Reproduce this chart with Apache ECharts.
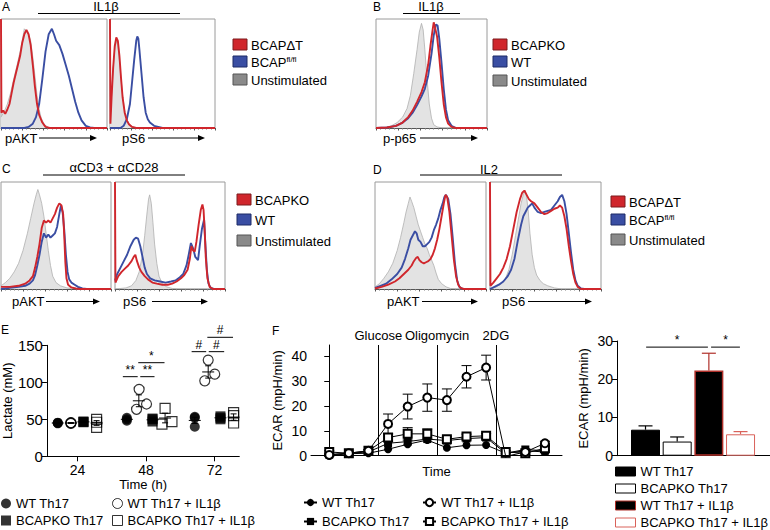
<!DOCTYPE html>
<html>
<head>
<meta charset="utf-8">
<script src="https://cdn.jsdelivr.net/npm/echarts@6.0.0/dist/echarts.min.js"></script>
<style>
  html, body { margin: 0; padding: 0; background: #fff; }
  #chart { width: 770px; height: 530px; }
</style>
</head>
<body>
<div id="chart"></div>
<script>
// ---- flow histograms: [position %, height % of max]
const a1Gray = [[0,10],[3,15],[6,22],[9,32],[12,45],[15,57],[18,70],[20,80],[22,91],[24,89],[26,86],[28,80],[30,65],[32,48],[34,30],[36,17],[38,9],[41,3],[45,0.5],[50,0],[100,0]];
const a1Blue = [[0,0],[22,0],[26,1],[30,4],[33,10],[36,22],[39,45],[42,70],[45,86],[48,91],[50,86],[52,80],[55,76],[58,68],[61,58],[64,48],[67,36],[70,24],[73,14],[76,7],[80,2],[84,0.5],[88,0],[100,0]];
const a1Red = [[0,100],[0.4,14],[2,16],[4,13],[6,17],[8,22],[10,32],[12,42],[14,50],[16,58],[18,66],[20,78],[22,86],[24,90],[26,86],[28,76],[30,58],[32,38],[34,22],[36,12],[39,5],[42,1],[46,0],[100,0]];
const a2Gray = [[0,4],[1.5,30],[3,55],[4.5,72],[6,80],[7.5,76],[9,62],[10.5,45],[12,30],[14,16],[16,8],[18,4],[21,1.5],[25,0],[100,0]];
const a2Blue = [[0,0],[10,0],[13,2],[16,8],[19,22],[21,42],[23,62],[25,80],[26,84],[27,82],[28,72],[30,50],[32,28],[34,14],[36,8],[38,5],[42,2],[46,1],[50,0],[100,0]];
const a2Red = [[0,100],[0.4,4],[1.5,28],[3,55],[4.5,75],[6,83],[7.5,80],[9,66],[10.5,46],[12,28],[14,14],[16,7],[18,3.5],[21,1],[25,0],[100,0]];
const bGray = [[0,0],[8,0.5],[14,2],[19,5],[24,10],[28,18],[31,30],[34,50],[37,72],[39,88],[41,96],[42.5,90],[44,72],[46,45],[48,22],[50,9],[52,3],[55,1],[60,0],[100,0]];
const bBlue = [[0,0],[10,0.5],[18,2],[24,5],[29,9],[33,14],[37,21],[41,29],[44,36],[47,48],[50,68],[52,85],[54,95],[55.5,94],[57,82],[59,60],[61,36],[63,17],[65,7],[68,2],[72,0],[100,0]];
const bRed = [[0,0],[10,0.5],[18,2],[24,5],[29,10],[33,16],[37,24],[41,33],[44,42],[47,58],[49,75],[51,90],[52,97],[53,93],[55,84],[57,65],[59,42],[61,22],[63,10],[65,4],[68,1],[72,0],[100,0]];
const c1Gray = [[0,3],[4,6],[8,10],[12,16],[16,24],[20,36],[24,52],[27,66],[30,80],[32,88],[33.5,93],[35,88],[37,80],[39,68],[41,52],[43,36],[45,22],[47,12],[50,6],[54,3],[60,1],[70,0],[100,0]];
const c1Blue = [[0,0],[8,1],[16,2],[22,3],[26,5],[29,8],[31,13],[33,22],[35,32],[37,44],[39,52],[41,48],[43,51],[45,48],[47,50],[49,52],[51,58],[53,70],[54.5,78],[56,72],[57.5,55],[59,32],[60.5,16],[62,9],[64,6],[67,4],[70,2],[74,0.5],[78,0],[100,0]];
const c1Red = [[0,2],[8,2],[16,3],[22,5],[26,8],[29,12],[31,20],[33,30],[35,42],[37,57],[39,64],[41,62],[43,64],[45,62],[47,66],[49,70],[51,76],[53,80],[55,78],[56.5,70],[57.5,50],[58.5,25],[59.5,10],[61,4],[64,1.5],[68,0.5],[72,0],[100,0]];
const c2Gray = [[0,0],[10,1],[15,3],[19,8],[22,16],[25,32],[27,50],[29,70],[30.5,84],[31.5,88],[33,80],[34.5,62],[36,42],[38,24],[40,12],[43,5],[47,2],[52,0.5],[58,0],[100,0]];
const c2Blue = [[0,8],[2,14],[5,20],[8,26],[11,32],[14,40],[17,46],[19,48],[21,47],[23,40],[25,30],[27,20],[29,14],[32,10],[36,8],[41,7],[46,6],[51,7],[55,8],[59,11],[62,14],[65,22],[67,32],[69,43],[71,38],[73,30],[75.5,27],[77,40],[79,56],[81,65],[82,45],[83.5,18],[85,5],[87,1],[90,0],[100,0]];
const c2Red = [[0,100],[0.4,6],[3,12],[6,16],[9,19],[12,22],[15,26],[17,30],[18.5,32],[20,26],[22,20],[24,16],[27,12],[30,9],[34,6],[38,5],[43,4],[48,4],[52,5],[56,7],[60,10],[63,13],[66,18],[68,28],[69.5,40],[71,36],[72.5,35],[74,44],[76,60],[78,74],[79.5,79],[80.5,74],[81.5,55],[82.5,30],[84,10],[86,2],[89,0],[100,0]];
const d1Gray = [[0,2],[4,5],[8,10],[12,16],[16,24],[20,36],[23,48],[26,62],[28,72],[30,80],[31.5,86],[33,82],[35,76],[37,68],[39,60],[41,54],[43,48],[45,42],[47,38],[49,32],[51,27],[53,22],[55,15],[57,9],[60,5],[64,2],[68,0.5],[75,0],[100,0]];
const d1Blue = [[0,1],[5,3],[10,5],[15,9],[20,14],[24,20],[27,28],[30,38],[32,46],[34,50],[36,54],[37.5,52],[39,46],[41,44],[43,40],[45,40],[47,42],[49,44],[51,48],[53,55],[55,60],[57,66],[59,74],[61,80],[62.5,86],[64,88],[66,84],[68,70],[70,48],[72,24],[74,8],[76,2],[79,0],[100,0]];
const d1Red = [[0,0.5],[6,2],[12,4],[18,7],[22,10],[26,14],[30,18],[33,22],[35,26],[37,29],[38.5,30],[40,27],[42,25],[44,24],[46,25],[48,26],[50,28],[52,32],[54,38],[56,46],[58,56],[60,68],[62,80],[63.5,88],[65,86],[67,72],[69,50],[71,28],[73,12],[75,4],[77,1],[80,0],[100,0]];
const d2Gray = [[0,0],[6,2],[10,5],[14,10],[17,18],[20,32],[23,50],[26,68],[28,80],[30,88],[31.5,92],[33,86],[34.5,72],[36,52],[38,32],[40,20],[42,13],[45,8],[48,5],[52,3],[58,1],[65,0],[100,0]];
const d2Blue = [[0,0],[4,2],[8,4],[12,7],[16,12],[19,18],[22,28],[25,45],[28,60],[30,68],[32,72],[34,76],[36,78],[38,80],[40,76],[43,72],[46,71],[49,72],[52,73],[55,74],[58,78],[61,82],[63,86],[65,88],[67,82],[69,70],[71,52],[73,34],[75,18],[77,8],[79,3],[82,0.5],[85,0],[100,0]];
const d2Red = [[0,100],[0.4,3],[3,6],[6,10],[9,14],[12,20],[15,28],[18,40],[21,56],[24,72],[27,84],[29,90],[31,92],[33,88],[35,84],[37,82],[40,80],[43,76],[46,72],[49,70],[52,71],[55,73],[58,75],[61,76],[63,78],[65,76],[67,68],[69,56],[71,40],[73,26],[75,14],[77,6],[79,2],[82,0],[100,0]];

// ---- E: lactate, [time position (h, jittered), mM]
const eWt = [[17.1,44.5],[17.1,45],[17.1,45.5],[41.3,52],[41.3,48],[41.3,50],[65.1,53.5],[65.1,52],[65.1,40]];
const eWtIl = [[21.7,45.5],[21.7,45],[21.7,44.5],[45.6,90.5],[44.7,63.5],[48.2,70.7],[69.8,130],[68.6,102],[72.1,111]];
const eKo = [[26.1,46.5],[26.1,46],[26.1,47],[50.3,51],[50.3,47],[50.3,50],[74.1,54],[74.1,50],[74.1,52]];
const eKoIl = [[30.7,50],[30.7,39],[30.7,46],[54.7,64.8],[53.6,43.6],[57.1,46.8],[78.7,59],[78.7,55],[78.7,45]];
const eGroupX = [17.1,41.3,65.1, 21.7,45.5,69.8, 26.1,50.3,74.1, 30.7,54.7,78.7];
const eMean = [45,50,48.5, 45,75,114, 46.5,49.3,52, 45,51.7,53];
const eSem = [0.5,1.2,4.2, 0.6,8,8.3, 0.5,1.2,1.2, 3.2,6.5,4.3];
const eTicks = [24, 48, 72];
const sigE = [[39.9,45.1,107.6,'**'],[46.0,51.0,107.6,'**'],[45.3,54.5,126.5,'*'],[64.0,69.1,141.4,'#'],[70.0,75.4,141.4,'#'],[69.5,78.5,160.8,'#']];

// ---- F: ECAR trace
const fTime = [0,1,2,3,4,5,6,7,8,9,10,11];
const fWt = [0,0.8,1,2.6,4.6,6.3,3.2,4.2,4.3,1,2,1.5];
const fKo = [0.5,1,1.5,5,5.7,6.7,6.1,6.9,7.3,1,2.5,2];
const fKoIl = [1.5,1,2,7.3,8.8,8.8,6.6,7.7,8,1.5,1,3];
const fWtIl = [0.3,1,2,12.8,19.8,23.4,22.4,31.8,35.5,-0.3,1.5,5];
const fErrKoIl = [0.5,0.3,0.5,1.5,2.5,2,1,1,1,0.5,0.5,0.8];
const fErrWtIl = [0.3,0.3,0.5,4,5,5.5,4.5,4.5,5,0.5,0.5,0.8];
const fInjections = [[2.5,'Glucose'],[5.5,'Oligomycin'],[8.5,'2DG']];
const fTicks = [0, 10, 20, 30, 40];

// ---- F: ECAR bars
const barNames = ['WT Th17', 'BCAPKO Th17', 'WT Th17 + IL1β', 'BCAPKO Th17 + IL1β'];
const barX = [1, 2, 3, 4];
const barMean = [6.8, 3.7, 22.3, 5.6];
const barTop = [7.8, 4.9, 26.8, 6.3];
const sigBar = [[1.02,2.97,28.4,'*'],[3.07,3.98,28.4,'*']];

const FONT = "'Liberation Sans', Arial, sans-serif";
const RED = '#d0262c', BLUE = '#3a4ea3';
const BAR_FILL = ['#000', '#fff', '#000', '#fff'];
const BAR_EDGE = ['#000', '#000', '#b0302a', '#d9625a'];

const chart = echarts.init(document.getElementById('chart'), null, { renderer: 'svg' });

const histPanels = [
  { box: [1, 19, 106, 109], curves: [a1Gray, a1Blue, a1Red] },
  { box: [110, 19, 105, 109], curves: [a2Gray, a2Blue, a2Red] },
  { box: [376, 19, 111, 109], curves: [bGray, bBlue, bRed] },
  { box: [1, 182, 110, 107], curves: [c1Gray, c1Blue, c1Red] },
  { box: [115, 182, 110, 107], curves: [c2Gray, c2Blue, c2Red] },
  { box: [375, 182, 111, 107], curves: [d1Gray, d1Blue, d1Red] },
  { box: [490, 182, 111, 107], curves: [d2Gray, d2Blue, d2Red] }
];

const grid = [], xAxis = [], yAxis = [], series = [];

histPanels.forEach((p, i) => {
  grid.push({ left: p.box[0], top: p.box[1], width: p.box[2], height: p.box[3],
    show: true, borderColor: '#9a9a9a', borderWidth: 1 });
  xAxis.push({ gridIndex: i, type: 'value', min: 0, max: 100, interval: 20,
    axisLine: { show: true, lineStyle: { color: '#555', width: 1 } },
    axisTick: { show: true, length: 2.5, lineStyle: { color: '#555' } },
    minorTick: { show: true, splitNumber: 5, length: 1.5, lineStyle: { color: '#777' } },
    axisLabel: { show: false }, splitLine: { show: false } });
  yAxis.push({ gridIndex: i, type: 'value', min: 0, max: 100, show: false });
  const styles = [
    { lineStyle: { color: '#b0b0b0', width: 0.8 }, areaStyle: { color: '#e3e3e3', opacity: 1 } },
    { lineStyle: { color: BLUE, width: 1.9 } },
    { lineStyle: { color: RED, width: 1.9 } }
  ];
  p.curves.forEach((c, k) => {
    series.push(Object.assign({ type: 'line', xAxisIndex: i, yAxisIndex: i, data: c,
      symbol: 'none', silent: true, z: 2 + k }, styles[k]));
  });
});

const axisBlack = { show: true, lineStyle: { color: '#000', width: 1 } };
const tickBlack = { show: true, length: 5, lineStyle: { color: '#000' } };
const labelStyle = { color: '#000', fontSize: 14, fontFamily: FONT };
const nameStyle = { color: '#000', fontSize: 13, fontFamily: FONT };

// E grid (7)
grid.push({ left: 44, top: 345.3, width: 195.3, height: 111 });
xAxis.push({ gridIndex: 7, type: 'value', min: 13.3, max: 80.7, axisLine: axisBlack,
  axisTick: Object.assign({ customValues: eTicks }, tickBlack),
  axisLabel: Object.assign({ customValues: eTicks, margin: 7 }, labelStyle),
  splitLine: { show: false }, name: 'Time (h)', nameLocation: 'middle', nameGap: 21, nameTextStyle: nameStyle });
yAxis.push({ gridIndex: 7, type: 'value', min: 0, max: 150, interval: 50, axisLine: axisBlack,
  axisTick: tickBlack, axisLabel: Object.assign({ margin: 4 }, labelStyle, { fontSize: 15 }), splitLine: { show: false },
  name: 'Lactate (mM)', nameLocation: 'middle', nameGap: 31, nameTextStyle: nameStyle });

// F trace grid (8)
grid.push({ left: 311, top: 345, width: 251, height: 110.7 });
xAxis.push({ gridIndex: 8, type: 'value', min: -0.93, max: 11.87, axisLine: axisBlack,
  axisTick: { show: false }, axisLabel: { show: false }, splitLine: { show: false },
  name: 'Time', nameLocation: 'middle', nameGap: 9, nameTextStyle: nameStyle });
yAxis.push({ gridIndex: 8, type: 'value', min: 0, max: 44.6, axisLine: axisBlack,
  axisTick: Object.assign({ customValues: fTicks }, tickBlack),
  axisLabel: Object.assign({ customValues: fTicks, margin: 4 }, labelStyle), splitLine: { show: false },
  name: 'ECAR (mpH/min)', nameLocation: 'middle', nameGap: 27, nameTextStyle: nameStyle });

// F bar grid (9)
grid.push({ left: 617, top: 341, width: 153, height: 114.7 });
xAxis.push({ gridIndex: 9, type: 'value', min: 0.1, max: 4.93, axisLine: axisBlack,
  axisTick: { show: false }, axisLabel: { show: false }, splitLine: { show: false } });
yAxis.push({ gridIndex: 9, type: 'value', min: 0, max: 30, interval: 10, axisLine: axisBlack,
  axisTick: tickBlack, axisLabel: Object.assign({ margin: 4 }, labelStyle), splitLine: { show: false },
  name: 'ECAR (mpH/min)', nameLocation: 'middle', nameGap: 27, nameTextStyle: nameStyle });

// E points
const hollow = { color: 'rgba(0,0,0,0)', borderColor: '#000', borderWidth: 1.2 };
[['e|WT Th17', eWt, 'circle', { color: '#000' }],
 ['e|WT Th17 + IL1β', eWtIl, 'circle', hollow],
 ['e|BCAPKO Th17', eKo, 'rect', { color: '#000' }],
 ['e|BCAPKO Th17 + IL1β', eKoIl, 'rect', hollow]].forEach(s => {
  series.push({ name: s[0], type: 'scatter', xAxisIndex: 7, yAxisIndex: 7, data: s[1],
    symbol: s[2], symbolSize: 10, itemStyle: s[3], z: 3, emphasis: { disabled: true } });
});

function meanSem(params, api) {
  const x = api.value(0), m = api.value(1), s = api.value(2);
  const c = api.coord([x, m]), lo = api.coord([x, m - s]), hi = api.coord([x, m + s]);
  const st = { stroke: '#000', lineWidth: 1 };
  return { type: 'group', children: [
    { type: 'line', shape: { x1: c[0] - 6, y1: c[1], x2: c[0] + 6, y2: c[1] }, style: st },
    { type: 'line', shape: { x1: c[0], y1: lo[1], x2: c[0], y2: hi[1] }, style: st },
    { type: 'line', shape: { x1: c[0] - 3, y1: lo[1], x2: c[0] + 3, y2: lo[1] }, style: st },
    { type: 'line', shape: { x1: c[0] - 3, y1: hi[1], x2: c[0] + 3, y2: hi[1] }, style: st }
  ] };
}
series.push({ type: 'custom', xAxisIndex: 7, yAxisIndex: 7, z: 4, silent: true,
  data: eGroupX.map((x, i) => [x, eMean[i], eSem[i]]), renderItem: meanSem });

// F error bars (under the markers)
function errBar(params, api) {
  const x = api.value(0), m = api.value(1), s = api.value(2);
  const lo = api.coord([x, m - s]), hi = api.coord([x, m + s]);
  const st = { stroke: '#000', lineWidth: 1 };
  return { type: 'group', children: [
    { type: 'line', shape: { x1: lo[0], y1: lo[1], x2: hi[0], y2: hi[1] }, style: st },
    { type: 'line', shape: { x1: lo[0] - 5, y1: lo[1], x2: lo[0] + 5, y2: lo[1] }, style: st },
    { type: 'line', shape: { x1: hi[0] - 5, y1: hi[1], x2: hi[0] + 5, y2: hi[1] }, style: st }
  ] };
}
series.push({ type: 'custom', xAxisIndex: 8, yAxisIndex: 8, z: 1, silent: true,
  data: fTime.map((t, i) => [t, fWtIl[i], fErrWtIl[i]]).concat(fTime.map((t, i) => [t, fKoIl[i], fErrKoIl[i]])),
  renderItem: errBar });

// F lines
const fLines = [
  ['f|WT Th17', fWt, 'circle'],
  ['f|BCAPKO Th17', fKo, 'rect'],
  ['f|BCAPKO Th17 + IL1β', fKoIl, 'emptyRect'],
  ['f|WT Th17 + IL1β', fWtIl, 'emptyCircle']
];
fLines.forEach((s, k) => {
  const ser = { name: s[0], type: 'line', xAxisIndex: 8, yAxisIndex: 8,
    data: fTime.map((t, i) => [t, s[1][i]]), symbol: s[2], symbolSize: 8, showAllSymbol: true,
    itemStyle: { color: '#000', borderWidth: 1 }, lineStyle: { color: '#000', width: 1 }, z: 2 + k,
    emphasis: { disabled: true } };
  if (k === 0) {
    ser.markLine = { silent: true, symbol: ['none', 'none'], animation: false,
      lineStyle: { color: '#000', type: 'solid', width: 1 },
      label: { position: 'end', formatter: '{b}', color: '#000', fontSize: 13, fontFamily: FONT, distance: 3 },
      emphasis: { disabled: true },
      data: fInjections.map(d => ({ xAxis: d[0], name: d[1] })) };
  }
  series.push(ser);
});

// F bars
barNames.forEach((n, i) => {
  series.push({ name: 'b|' + n, type: 'bar', xAxisIndex: 9, yAxisIndex: 9,
    data: [[barX[i], barMean[i]]], barWidth: 29, barGap: '-100%', z: 2,
    itemStyle: { color: BAR_FILL[i], borderColor: BAR_EDGE[i], borderWidth: i === 2 ? 1.5 : 1 },
    emphasis: { disabled: true } });
});
series.push({ type: 'custom', xAxisIndex: 9, yAxisIndex: 9, z: 3, silent: true,
  data: barX.map((x, i) => [x, barMean[i], barTop[i]]),
  renderItem: function (params, api) {
    const x = api.value(0);
    const a = api.coord([x, api.value(1)]), b = api.coord([x, api.value(2)]);
    const st = { stroke: BAR_EDGE[params.dataIndex], lineWidth: 1.2 };
    return { type: 'group', children: [
      { type: 'line', shape: { x1: a[0], y1: a[1], x2: b[0], y2: b[1] }, style: st },
      { type: 'line', shape: { x1: b[0] - 7, y1: b[1], x2: b[0] + 7, y2: b[1] }, style: st }
    ] };
  } });

const legendText = { color: '#000', fontSize: 13, fontFamily: FONT, lineHeight: 13 };
const stripName = name => name.split('|')[1];
const legend = [
  { left: 1, top: 497, orient: 'vertical', itemGap: 4, itemWidth: 10, itemHeight: 10, padding: 0,
    selectedMode: false, formatter: stripName, textStyle: legendText,
    data: [{ name: 'e|WT Th17', icon: 'circle', itemStyle: { color: '#000' } },
           { name: 'e|BCAPKO Th17', icon: 'rect', itemStyle: { color: '#000' } }] },
  { left: 112, top: 497, orient: 'vertical', itemGap: 4, itemWidth: 10, itemHeight: 10, padding: 0,
    selectedMode: false, formatter: stripName, textStyle: legendText,
    data: [{ name: 'e|WT Th17 + IL1β', icon: 'circle', itemStyle: { color: '#fff', borderColor: '#000', borderWidth: 1 } },
           { name: 'e|BCAPKO Th17 + IL1β', icon: 'rect', itemStyle: { color: '#fff', borderColor: '#000', borderWidth: 1 } }] },
  { left: 303, top: 496, orient: 'vertical', itemGap: 6, itemWidth: 13, itemHeight: 9, padding: 0,
    selectedMode: false, formatter: stripName, textStyle: legendText,
    data: ['f|WT Th17', 'f|BCAPKO Th17'] },
  { left: 422, top: 496, orient: 'vertical', itemGap: 6, itemWidth: 13, itemHeight: 9, padding: 0,
    selectedMode: false, formatter: stripName, textStyle: legendText,
    data: ['f|WT Th17 + IL1β', 'f|BCAPKO Th17 + IL1β'] },
  { left: 615, top: 465, orient: 'vertical', itemGap: 4, itemWidth: 20, itemHeight: 9, padding: 0,
    selectedMode: false, formatter: stripName, textStyle: legendText,
    data: barNames.map((n, i) => ({ name: 'b|' + n, icon: 'rect',
      itemStyle: { color: BAR_FILL[i], borderColor: BAR_EDGE[i], borderWidth: 1 } })) }
];

// ---- static annotations: panel letters, stimulus titles, axis arrows, histogram keys
const G = [];
function txt(s, x, y, align, size, rich) {
  G.push({ type: 'text', x: x, y: y, silent: true,
    style: { text: s, fill: '#000', font: (size || 13) + 'px ' + FONT, rich: rich,
      textAlign: align || 'left', align: align || 'left', textVerticalAlign: 'middle', verticalAlign: 'middle' } });
}
function hline(x1, x2, y) {
  G.push({ type: 'line', silent: true, shape: { x1: x1, y1: y, x2: x2, y2: y }, style: { stroke: '#000', lineWidth: 1 } });
}
function arrowLabel(s, x, y, ax1, ax2) {
  txt(s, x, y);
  hline(ax1, ax2 - 6, y);
  G.push({ type: 'polygon', silent: true, shape: { points: [[ax2 - 7, y - 3], [ax2, y], [ax2 - 7, y + 3]] }, style: { fill: '#000' } });
}
const SUP = { s: { fontSize: 8, verticalAlign: 'top', fontFamily: FONT, fill: '#000' } };
function histKey(x, ys, labels) {
  const fills = [[RED, '#7d1a1c'], [BLUE, '#1d2a66'], ['#8a8a8a', '#555']];
  ys.forEach((y, i) => {
    G.push({ type: 'rect', silent: true, shape: { x: x, y: y - 6, width: 14, height: 11 },
      style: { fill: fills[i][0], stroke: fills[i][1], lineWidth: 1 } });
    txt(labels[i], x + 18, y, 'left', 13, SUP);
  });
}

txt('A', 2, 7, 'left', 12); txt('B', 373, 7, 'left', 12);
txt('C', 2, 169, 'left', 12); txt('D', 373, 170, 'left', 12);
txt('E', 1, 330, 'left', 12); txt('F', 272, 331, 'left', 12);
txt('IL1β', 106, 6, 'center'); hline(38, 180, 13.5);
txt('IL1β', 431, 6, 'center'); hline(403, 460, 13.5);
txt('αCD3 + αCD28', 114, 167, 'center'); hline(43, 185, 175);
txt('IL2', 489, 169, 'center'); hline(420, 562, 175);
arrowLabel('pAKT', 5, 138, 39, 97); arrowLabel('pS6', 122, 138, 148, 205);
arrowLabel('p-p65', 383, 138, 420, 478);
arrowLabel('pAKT', 12, 301.5, 46, 100); arrowLabel('pS6', 123, 301.5, 152, 208);
arrowLabel('pAKT', 387, 301.5, 422, 478); arrowLabel('pS6', 502, 301.5, 528, 592);
histKey(233, [45, 62, 80], ['BCAPΔT', 'BCAP{s|fl/fl}', 'Unstimulated']);
histKey(493, [45, 62, 81], ['BCAPKO', 'WT', 'Unstimulated']);
histKey(237, [200, 220, 241], ['BCAPKO', 'WT', 'Unstimulated']);
histKey(611, [202, 220, 240], ['BCAPΔT', 'BCAP{s|fl/fl}', 'Unstimulated']);

chart.setOption({
  animation: false,
  textStyle: { fontFamily: FONT },
  grid: grid, xAxis: xAxis, yAxis: yAxis, legend: legend, series: series,
  graphic: { elements: G }
});

// significance brackets, placed in data units via the library's own mapping
const S = [];
function addSig(gridIndex, list) {
  list.forEach(d => {
    const p1 = chart.convertToPixel({ gridIndex: gridIndex }, [d[0], d[2]]);
    const p2 = chart.convertToPixel({ gridIndex: gridIndex }, [d[1], d[2]]);
    S.push({ type: 'line', silent: true, shape: { x1: p1[0], y1: p1[1], x2: p2[0], y2: p2[1] },
      style: { stroke: '#000', lineWidth: 1 } });
    S.push({ type: 'text', silent: true, x: (p1[0] + p2[0]) / 2, y: p1[1] - 1,
      style: { text: d[3], fill: '#000', font: '12px ' + FONT, textAlign: 'center', align: 'center',
        textVerticalAlign: 'bottom', verticalAlign: 'bottom' } });
  });
}
addSig(7, sigE);
addSig(9, sigBar);
chart.setOption({ graphic: { elements: G.concat(S) } });
</script>
</body>
</html>
